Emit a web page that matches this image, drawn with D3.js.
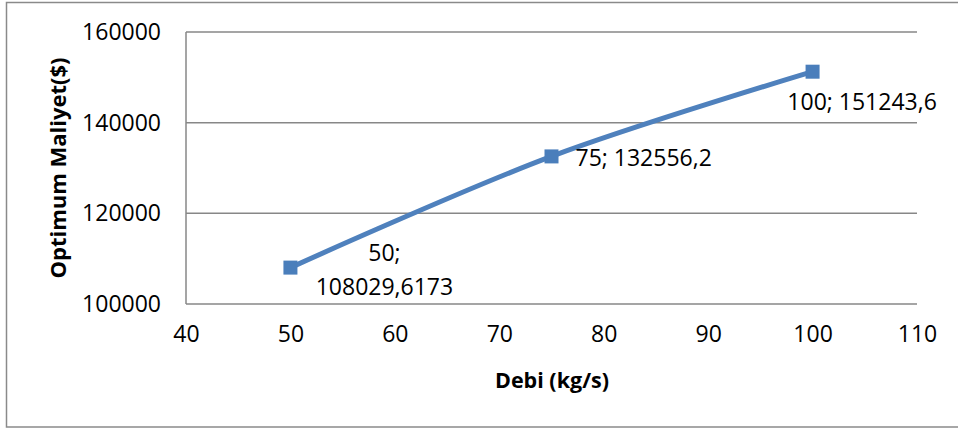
<!DOCTYPE html>
<html>
<head>
<meta charset="utf-8">
<script src="https://cdn.jsdelivr.net/npm/d3@7"></script>
<style>
  html, body { margin: 0; padding: 0; background: #fff; }
  svg { display: block; }
  text { font-family: "Open Sans", sans-serif; fill: #000; }
</style>
</head>
<body>
<svg id="chart" width="958" height="428"></svg>
<script>
// Flow rate (kg/s) vs optimum cost ($)
const debi = [50, 75, 100];
const maliyet = [108029.6173, 132556.2, 151243.6];
const pointLabels = [["50;", "108029,6173"], ["75; 132556,2"], ["100; 151243,6"]];
const xTicks = [40, 50, 60, 70, 80, 90, 100, 110];
const yTicks = [100000, 120000, 140000, 160000];

const svg = d3.select("#chart");
const W = 958;
const plot = { left: 186, right: 917, top: 32, bottom: 304 };
const FONT = "Open Sans";
const tickSize = 23;

const x = d3.scaleLinear().domain([40, 110]).range([plot.left, plot.right]);
const y = d3.scaleLinear().domain([100000, 160000]).range([plot.bottom, plot.top]);

// outer chart frame
svg.append("rect")
  .attr("x", 6.5).attr("y", 2.5)
  .attr("width", W + 10).attr("height", 424.5)
  .attr("fill", "none").attr("stroke", "#8a8a8a").attr("stroke-width", 1.5);

// horizontal gridlines
svg.append("g").selectAll("line").data(yTicks).join("line")
  .attr("x1", plot.left).attr("x2", plot.right)
  .attr("y1", d => y(d)).attr("y2", d => y(d))
  .attr("stroke", "#878787").attr("stroke-width", 1.5);

// vertical axis line
svg.append("line")
  .attr("x1", plot.left).attr("x2", plot.left)
  .attr("y1", plot.top).attr("y2", plot.bottom)
  .attr("stroke", "#878787").attr("stroke-width", 1.5);

// y tick labels
const yAxis = d3.axisLeft(y).tickValues(yTicks).tickSize(0).tickPadding(25)
  .tickFormat(d3.format("d"));
svg.append("g").attr("transform", `translate(${plot.left},0)`).call(yAxis)
  .call(g => g.select(".domain").remove())
  .selectAll("text").attr("font-size", tickSize).attr("font-family", FONT).attr("fill", "#000");

// x tick labels
const xAxis = d3.axisBottom(x).tickValues(xTicks).tickSize(0).tickPadding(22)
  .tickFormat(d3.format("d"));
svg.append("g").attr("transform", `translate(0,${plot.bottom})`).call(xAxis)
  .call(g => g.select(".domain").remove())
  .selectAll("text").attr("font-size", tickSize).attr("font-family", FONT).attr("fill", "#000");

// axis titles
svg.append("text")
  .attr("x", 552).attr("y", 388)
  .attr("text-anchor", "middle")
  .attr("font-size", 21.5).attr("font-weight", "bold")
  .text("Debi (kg/s)");

svg.append("text")
  .attr("transform", "translate(66,168) rotate(-90)")
  .attr("text-anchor", "middle")
  .attr("font-size", 22).attr("font-weight", "bold")
  .text("Optimum Maliyet($)");

// smoothed series line
const pts = debi.map((d, i) => [x(d), y(maliyet[i])]);
svg.append("path")
  .attr("d", d3.line().curve(d3.curveCatmullRom.alpha(0.5))(pts))
  .attr("fill", "none").attr("stroke", "#4f81bd").attr("stroke-width", 5)
  .attr("stroke-linejoin", "round");

// square markers
const ms = 14;
svg.append("g").selectAll("rect").data(pts).join("rect")
  .attr("x", d => d[0] - ms / 2).attr("y", d => d[1] - ms / 2)
  .attr("width", ms).attr("height", ms)
  .attr("fill", "#4a7ebb");

// data labels
const lbl = svg.append("g").attr("font-size", tickSize);
// first point: two-line label, centred block below-right
lbl.append("text").attr("text-anchor", "middle")
  .attr("x", x(debi[0]) + 94).attr("y", y(maliyet[0]) - 7)
  .text(pointLabels[0][0]);
lbl.append("text").attr("text-anchor", "middle")
  .attr("x", x(debi[0]) + 94).attr("y", y(maliyet[0]) + 27)
  .text(pointLabels[0][1]);
// second point: to the right
lbl.append("text").attr("text-anchor", "start")
  .attr("x", x(debi[1]) + 24).attr("y", y(maliyet[1]) + 10)
  .text(pointLabels[1][0]);
// third point: below, centred
lbl.append("text").attr("text-anchor", "middle")
  .attr("x", x(debi[2]) + 49.5).attr("y", y(maliyet[2]) + 38)
  .text(pointLabels[2][0]);
</script>
</body>
</html>
